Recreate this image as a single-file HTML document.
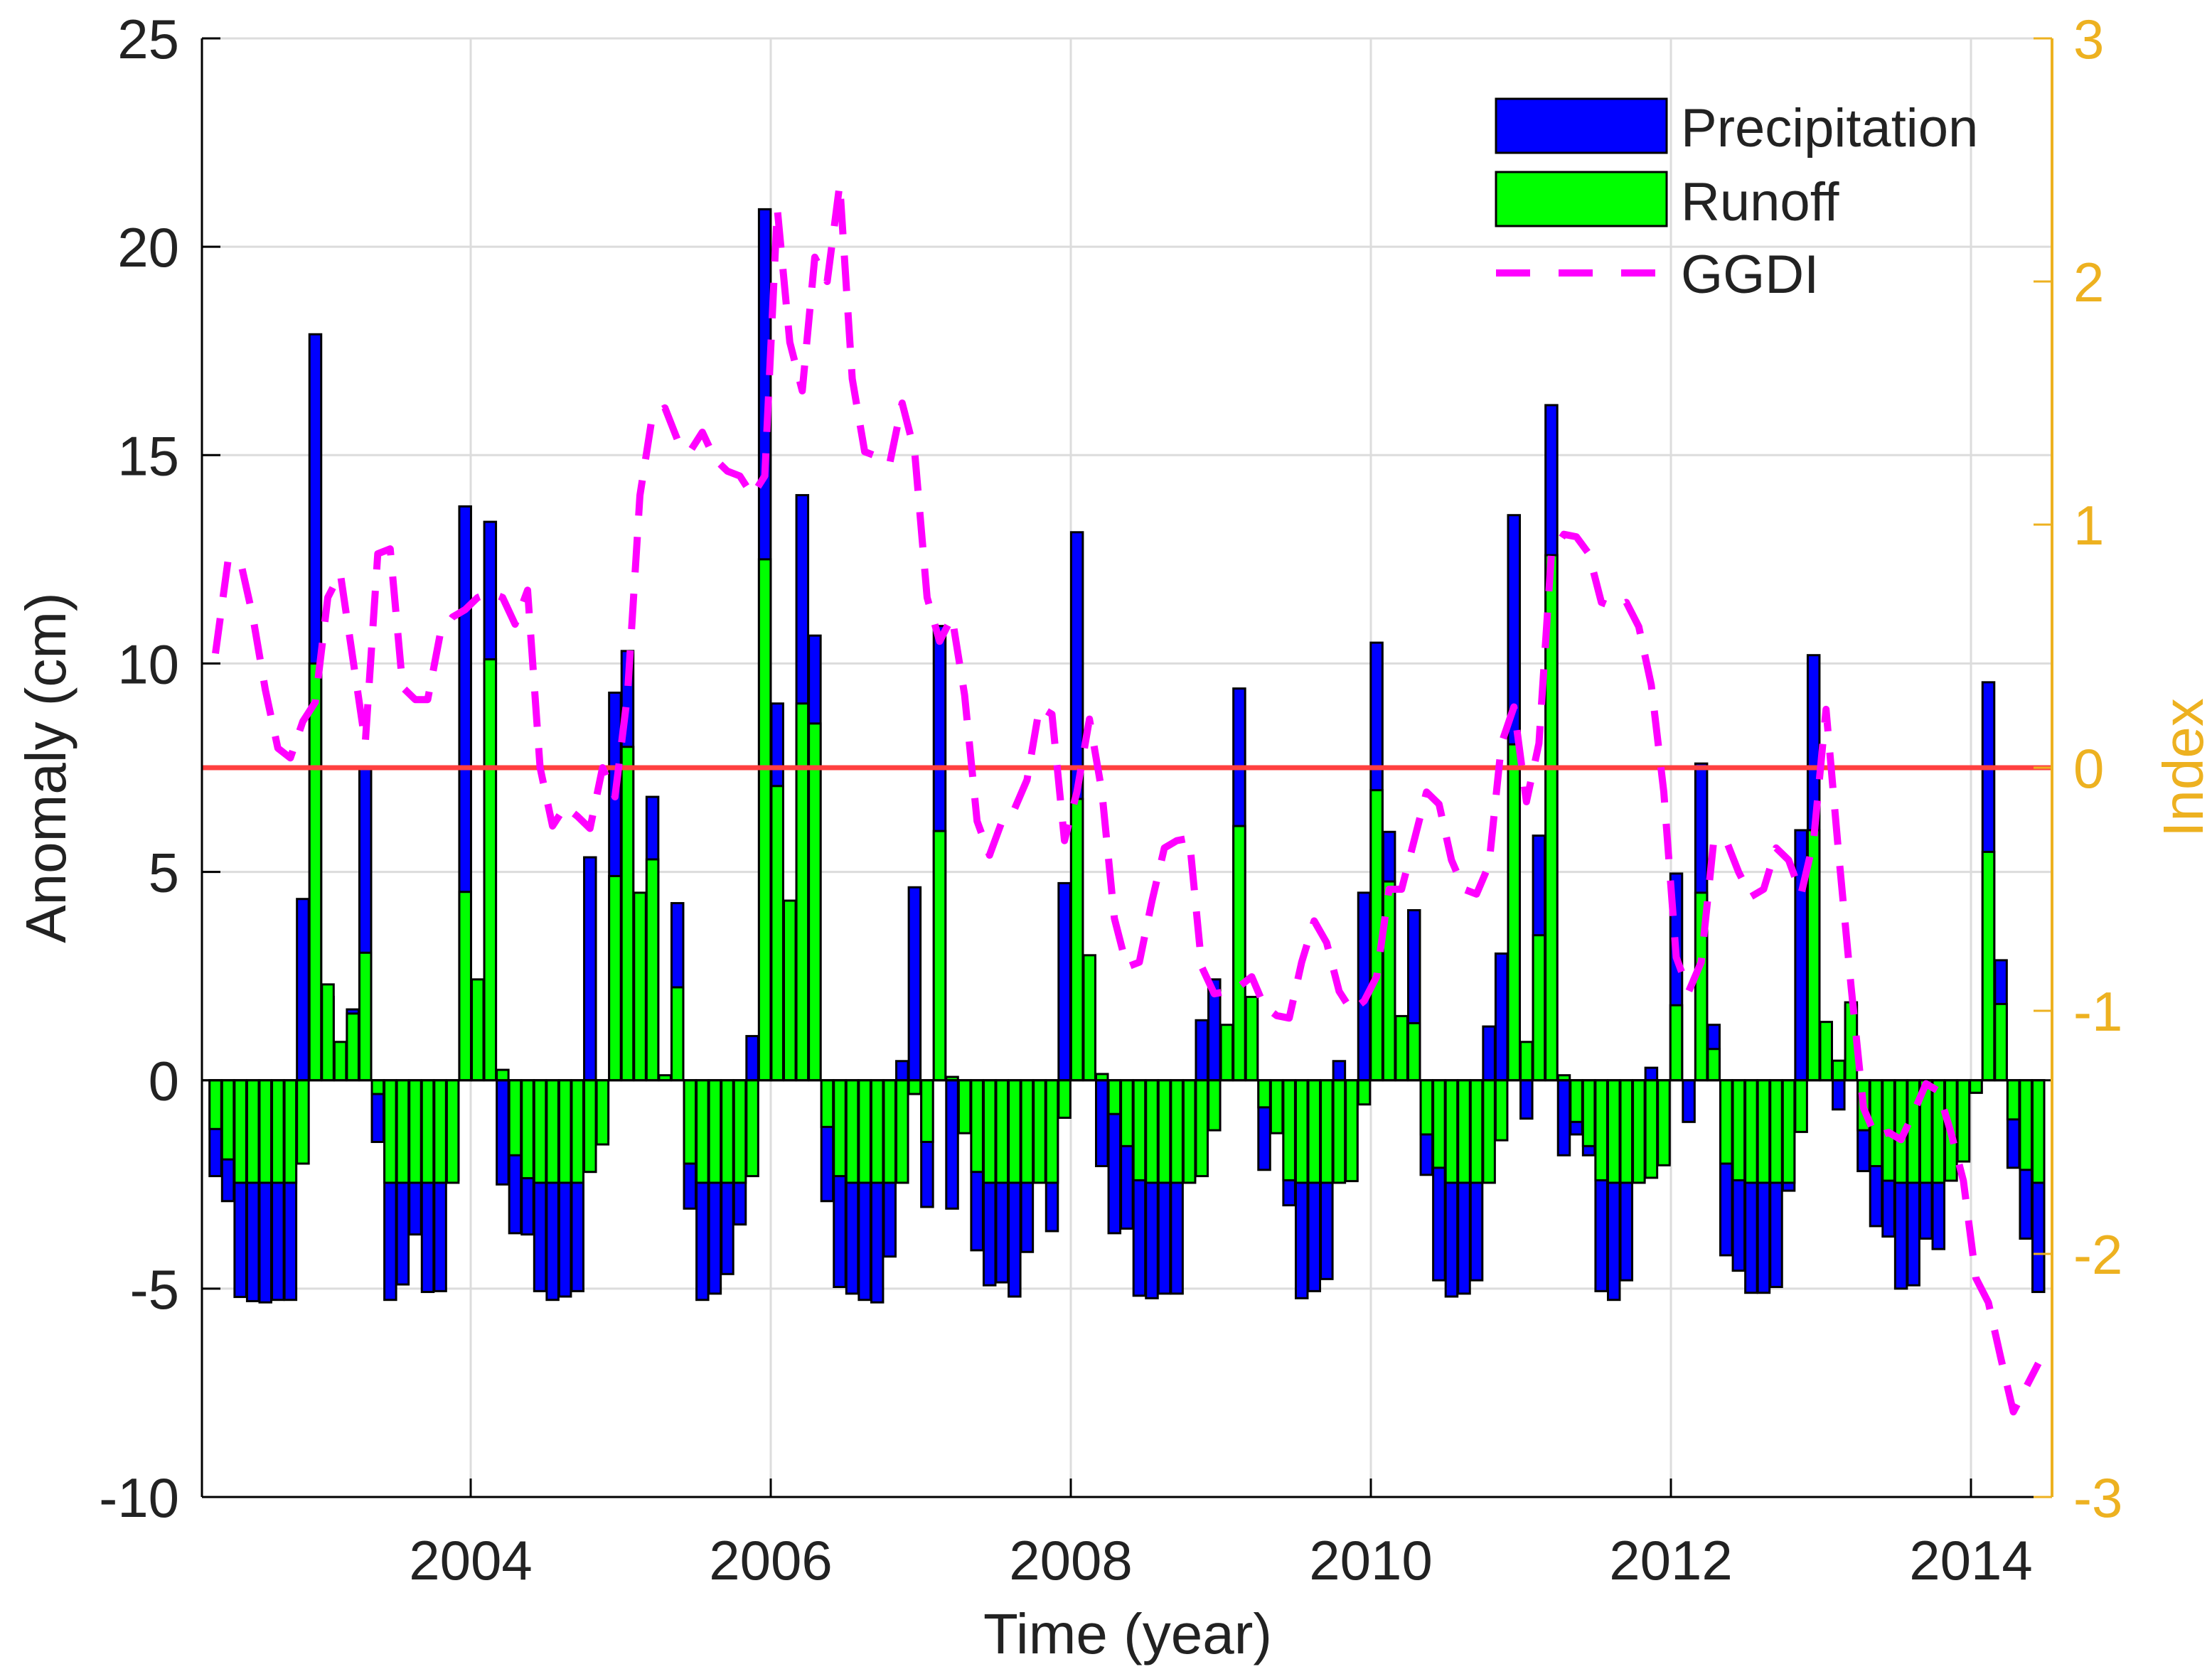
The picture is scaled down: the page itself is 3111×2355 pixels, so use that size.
<!DOCTYPE html>
<html><head><meta charset="utf-8"><style>
html,body{margin:0;padding:0;background:#fff;}
svg{display:block;font-family:"Liberation Sans",Arial,sans-serif;}
</style></head><body>
<svg id="chart" width="3111" height="2355" viewBox="0 0 3111 2355" xmlns="http://www.w3.org/2000/svg">
<rect x="0" y="0" width="3111" height="2355" fill="#fff"/>
<g id="grid"></g>
<g id="bars"></g>
<g id="lines"></g>
<g id="axes"></g>
<g id="legend">
  <rect x="2104" y="139" width="240" height="76" fill="#0000ff" stroke="#000" stroke-width="3"/>
  <text x="2364" y="206" font-size="76" fill="#222">Precipitation</text>
  <rect x="2104" y="242" width="240" height="76" fill="#00ff00" stroke="#000" stroke-width="3"/>
  <text x="2364" y="310" font-size="76" fill="#222">Runoff</text>
  <line x1="2104" y1="384" x2="2344" y2="384" stroke="#ff00ff" stroke-width="10" stroke-dasharray="48,40"/>
  <text x="2364" y="412" font-size="76" fill="#222">GGDI</text>
</g>
</svg>
<script>
const yLeftTicks = [-10,-5,0,5,10,15,20,25];
const yRightTicks = [-3,-2,-1,0,1,2,3];
const xYearTicks = [2004,2006,2008,2010,2012,2014];
const precipitation = [-2.3,-2.9,-5.2,-5.3,-5.33,-5.27,-5.27,4.35,17.9,2.0,0.8,1.7,7.5,-1.48,-5.27,-4.9,-3.7,-5.08,-5.06,-2.4,13.77,2.3,13.4,-2.5,-3.67,-3.7,-5.06,-5.27,-5.19,-5.06,5.35,-1.4,9.3,10.3,4.4,6.8,0.1,4.25,-3.08,-5.27,-5.12,-4.65,-3.46,1.06,20.9,9.04,4.2,14.04,10.67,-2.9,-4.96,-5.12,-5.27,-5.33,-4.23,0.46,4.63,-3.04,10.9,-3.08,-1.2,-4.08,-4.92,-4.85,-5.19,-4.12,-2.4,-3.62,4.73,13.15,2.9,-2.06,-3.67,-3.56,-5.17,-5.23,-5.12,-5.12,-2.4,1.44,2.42,1.3,9.4,1.9,-2.15,-1.2,-3.0,-5.23,-5.06,-4.77,0.46,-2.4,4.5,10.5,5.96,1.5,4.08,-2.27,-4.8,-5.19,-5.12,-4.8,1.29,3.04,13.56,-0.92,5.87,16.2,-1.8,-1.3,-1.8,-5.06,-5.27,-4.8,-2.4,0.3,-2.0,4.96,-1.0,7.6,1.33,-4.2,-4.57,-5.1,-5.1,-4.96,-2.65,6.0,10.2,1.3,-0.7,1.8,-2.18,-3.5,-3.75,-5.0,-4.92,-3.8,-4.05,-2.4,-1.9,-0.3,9.55,2.88,-2.1,-3.8,-5.08];
const runoff = [-1.17,-1.9,-2.46,-2.46,-2.46,-2.46,-2.46,-2.0,10.0,2.3,0.92,1.6,3.06,-0.33,-2.46,-2.46,-2.46,-2.46,-2.46,-2.46,4.52,2.42,10.1,0.25,-1.8,-2.35,-2.46,-2.46,-2.46,-2.46,-2.2,-1.54,4.9,8.0,4.5,5.3,0.12,2.23,-2.0,-2.46,-2.46,-2.46,-2.46,-2.3,12.5,7.06,4.31,9.04,8.56,-1.12,-2.3,-2.46,-2.46,-2.46,-2.46,-2.46,-0.33,-1.48,5.98,0.08,-1.27,-2.2,-2.46,-2.46,-2.46,-2.46,-2.46,-2.46,-0.9,6.75,3.0,0.15,-0.81,-1.58,-2.4,-2.46,-2.46,-2.46,-2.46,-2.3,-1.2,1.33,6.1,2.0,-0.65,-1.27,-2.4,-2.46,-2.46,-2.46,-2.46,-2.42,-0.58,6.96,4.77,1.54,1.37,-1.3,-2.1,-2.46,-2.46,-2.46,-2.46,-1.44,8.06,0.92,3.48,12.6,0.12,-1.0,-1.58,-2.4,-2.46,-2.46,-2.46,-2.34,-2.04,1.8,0,4.5,0.75,-2.0,-2.4,-2.46,-2.46,-2.46,-2.46,-1.24,6.0,1.4,0.47,1.87,-1.2,-2.06,-2.41,-2.46,-2.46,-2.46,-2.46,-2.41,-1.95,-0.3,5.48,1.83,-0.94,-2.15,-2.46];
const ggdi = [0.47,0.85,0.85,0.62,0.32,0.08,0.04,0.19,0.27,0.7,0.8,0.45,0.1,0.88,0.9,0.33,0.28,0.28,0.55,0.62,0.65,0.7,0.72,0.7,0.59,0.73,0,-0.24,-0.16,-0.2,-0.25,0,-0.12,0.3,1.12,1.45,1.48,1.35,1.3,1.38,1.27,1.22,1.2,1.12,1.2,2.3,1.75,1.55,2.1,2.0,2.4,1.6,1.3,1.28,1.25,1.5,1.3,0.7,0.52,0.62,0.3,-0.22,-0.36,-0.22,-0.17,-0.05,0.25,0.22,-0.3,-0.1,0.2,-0.1,-0.62,-0.82,-0.8,-0.55,-0.33,-0.3,-0.29,-0.82,-0.93,-0.92,-0.9,-0.86,-0.98,-1.02,-1.03,-0.8,-0.63,-0.72,-0.92,-1.0,-0.96,-0.86,-0.5,-0.5,-0.3,-0.1,-0.15,-0.38,-0.5,-0.52,-0.4,0.1,0.25,-0.14,0.1,0.88,0.96,0.95,0.88,0.68,0.66,0.68,0.58,0.34,-0.1,-0.78,-0.92,-0.8,-0.3,-0.3,-0.43,-0.53,-0.5,-0.33,-0.38,-0.52,-0.3,0.24,-0.35,-0.9,-1.4,-1.52,-1.5,-1.53,-1.42,-1.3,-1.33,-1.5,-1.7,-2.1,-2.2,-2.43,-2.65,-2.55,-2.45];

const NS='http://www.w3.org/2000/svg';
const PL=284, PR=2886, PT=54, PB=2106;
function yL(v){return PT+(25-v)*(PB-PT)/35;}
function yR(v){return PT+(3-v)*(PB-PT)/6;}
function xYear(y){return 662+(y-2004)*211;}
function xBar(i){return 303+i*17.56;}
const BW=16.5;
function mk(tag,attrs,parent){const e=document.createElementNS(NS,tag);for(const k in attrs)e.setAttribute(k,attrs[k]);parent.appendChild(e);return e;}
const grid=document.getElementById('grid'),bars=document.getElementById('bars'),lines=document.getElementById('lines'),axes=document.getElementById('axes');

yLeftTicks.forEach(v=>{
  const g=mk('line',{x1:PL,x2:PR,y1:yL(v),y2:yL(v),stroke:'#dcdcdc','stroke-width':3},grid);
  
  
});
xYearTicks.forEach(y=>{
  const g=mk('line',{x1:xYear(y),x2:xYear(y),y1:PT,y2:PB,stroke:'#dcdcdc','stroke-width':3},grid);
  
  
});

precipitation.forEach((v,i)=>{
  const y0=yL(0),y1=yL(v);
  const r=mk('rect',{x:xBar(i)-BW/2,y:Math.min(y0,y1),width:BW,height:Math.abs(y1-y0),fill:'#0000ff',stroke:'#000','stroke-width':3},bars);
  
  
});
runoff.forEach((v,i)=>{
  const y0=yL(0),y1=yL(v);
  const r=mk('rect',{x:xBar(i)-BW/2,y:Math.min(y0,y1),width:BW,height:Math.abs(y1-y0),fill:'#00ff00',stroke:'#000','stroke-width':3},bars);
  
  
});
const zl=mk('line',{x1:PL,x2:PR,y1:yL(0),y2:yL(0),stroke:'#000','stroke-width':3},bars);



const red=mk('line',{x1:PL,x2:PR,y1:yR(0),y2:yR(0),stroke:'#ff4040','stroke-width':7},lines);


const pts=ggdi.map((v,i)=>xBar(i).toFixed(1)+','+yR(v).toFixed(1)).join(' ');
const pl=mk('polyline',{points:pts,fill:'none',stroke:'#ff00ff','stroke-width':10,'stroke-dasharray':'50,30','stroke-linejoin':'round'},lines);



const la=mk('line',{x1:PL,x2:PL,y1:PT,y2:PB,stroke:'#000','stroke-width':3},axes);


const ba=mk('line',{x1:PL,x2:PR,y1:PB,y2:PB,stroke:'#000','stroke-width':3},axes);


const ra=mk('line',{x1:PR,x2:PR,y1:PT,y2:PB,stroke:'#edb120','stroke-width':4},axes);


yLeftTicks.forEach(v=>{
  const t=mk('line',{x1:PL,x2:PL+26,y1:yL(v),y2:yL(v),stroke:'#000','stroke-width':3},axes);
  
  
  const l=mk('text',{x:252,y:yL(v)+28,'font-size':78,'text-anchor':'end',fill:'#222'},axes);
  l.textContent=String(v);
  
  
});
yRightTicks.forEach(v=>{
  const t=mk('line',{x1:PR-26,x2:PR,y1:yR(v),y2:yR(v),stroke:'#edb120','stroke-width':3},axes);
  
  
  const l=mk('text',{x:2916,y:yR(v)+28,'font-size':78,'text-anchor':'start',fill:'#edb120'},axes);
  l.textContent=String(v);
  
  
});
xYearTicks.forEach(y=>{
  const t=mk('line',{x1:xYear(y),x2:xYear(y),y1:PB-26,y2:PB,stroke:'#000','stroke-width':3},axes);
  
  
  const l=mk('text',{x:xYear(y),y:2222,'font-size':78,'text-anchor':'middle',fill:'#222'},axes);
  l.textContent=String(y);
  
  
});
const xt=mk('text',{x:1586,y:2326,'font-size':80,'text-anchor':'middle',fill:'#222'},axes);
xt.textContent='Time (year)';


const yt=mk('text',{x:0,y:0,'font-size':80,'text-anchor':'middle',fill:'#222',transform:'translate(92,1080) rotate(-90)'},axes);
yt.textContent='Anomaly (cm)';


const rt=mk('text',{x:0,y:0,'font-size':80,'text-anchor':'middle',fill:'#edb120',transform:'translate(3098,1080) rotate(-90)'},axes);
rt.textContent='Index';


</script>
</body></html>
